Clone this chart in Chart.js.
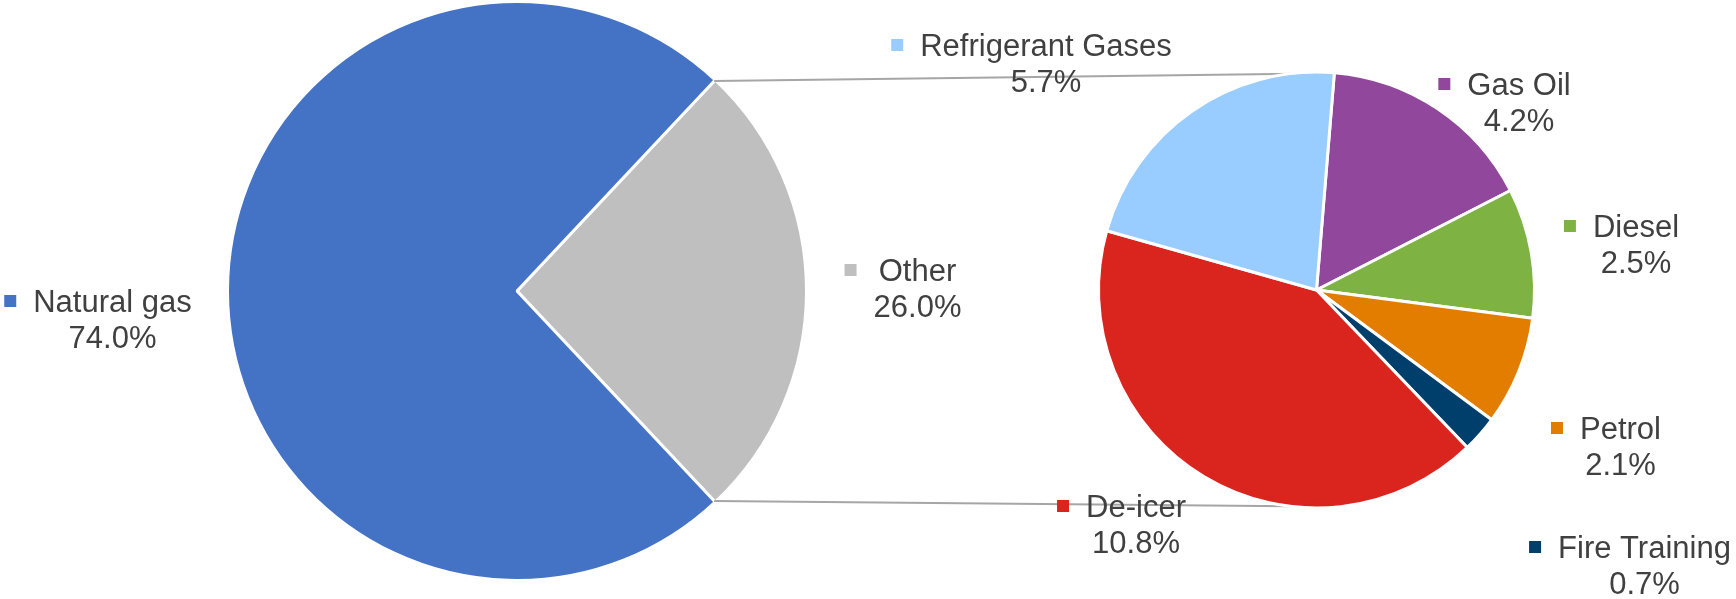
<!DOCTYPE html>
<html>
<head>
<meta charset="utf-8">
<script src="https://cdn.jsdelivr.net/npm/chart.js@4/dist/chart.umd.min.js"></script>
<style>
  html, body { margin: 0; padding: 0; background: #ffffff; }
  #wrap { position: relative; width: 1736px; height: 599px; overflow: hidden; }
  canvas { position: absolute; left: 0; top: 0; }
</style>
</head>
<body>
<div id="wrap">
  <canvas id="mainPie" width="1736" height="599"></canvas>
  <canvas id="subPie" width="1736" height="599"></canvas>
</div>
<script>
// ---- data ----
const mainLabels = ['Other', 'Natural gas'];
const mainValues = [26.0, 74.0];
const mainColors = ['#BFBFBF', '#4472C4'];

const subLabels = ['Gas Oil', 'Diesel', 'Petrol', 'Fire Training', 'De-icer', 'Refrigerant Gases'];
const subValues = [4.2, 2.5, 2.1, 0.7, 10.8, 5.7];
const subColors = ['#91489C', '#7EB343', '#E27D00', '#003F6C', '#DA251F', '#99CCFF'];

// label placement (text-block centre x, first baseline y) relative to each pie centre
const mainLabelOffsets = [[400.5, -10], [-404.5, 21]];
const subLabelOffsets = [[202.5, -195], [319.5, -53], [304, 149], [328, 268], [-180.5, 227], [-270.5, -234]];

const FONT = '31px "Liberation Sans", Arial, Helvetica, sans-serif';
const TEXT_COLOR = '#404040';
const LINE_GAP = 36;

function fmtPct(v) { return v.toFixed(1) + '%'; }

function makeLabelPlugin(labels, values, colors, offsets) {
  return {
    id: 'pieLabels',
    afterDatasetsDraw(chart) {
      const ctx = chart.ctx;
      const arcs = chart.getDatasetMeta(0).data;
      ctx.save();
      ctx.font = FONT;
      ctx.fillStyle = TEXT_COLOR;
      ctx.textBaseline = 'alphabetic';
      ctx.textAlign = 'center';
      arcs.forEach((arc, i) => {
        const {x, y} = arc.getProps(['x', 'y'], true);
        const cx = x + offsets[i][0];
        const by = y + offsets[i][1];
        const l1 = labels[i];
        const l2 = fmtPct(values[i]);
        const w = Math.max(ctx.measureText(l1).width, ctx.measureText(l2).width);
        const left = cx - w / 2;
        ctx.fillStyle = colors[i];
        ctx.fillRect(left - 17 - 12, by - 17, 12, 12);
        ctx.fillStyle = TEXT_COLOR;
        ctx.fillText(l1, cx, by);
        ctx.fillText(l2, cx, by + LINE_GAP);
      });
      ctx.restore();
    }
  };
}

const total = mainValues.reduce((a, b) => a + b, 0);
const mainRotation = 90 - (mainValues[0] / total * 360) / 2;

const baseOpts = {
  responsive: false,
  animation: false,
  events: [],
  plugins: { legend: { display: false }, tooltip: { enabled: false } }
};

const mainChart = new Chart(document.getElementById('mainPie'), {
  type: 'pie',
  data: {
    labels: mainLabels,
    datasets: [{
      data: mainValues,
      backgroundColor: mainColors,
      borderColor: '#ffffff',
      borderWidth: 3,
      hoverBorderWidth: 3
    }]
  },
  options: Object.assign({}, baseOpts, {
    rotation: mainRotation,
    layout: { padding: { left: 226, right: 928, top: 0, bottom: 17 } }
  }),
  plugins: [makeLabelPlugin(mainLabels, mainValues, mainColors, mainLabelOffsets)]
});

const connectorPlugin = {
  id: 'connectors',
  beforeDatasetsDraw(chart) {
    const src = mainChart.getDatasetMeta(0).data[0];
    const sp = src.getProps(['x', 'y', 'startAngle', 'endAngle', 'outerRadius'], true);
    const dst = chart.getDatasetMeta(0).data[0];
    const dp = dst.getProps(['x', 'y', 'outerRadius'], true);
    const r1 = sp.outerRadius - 1.5;
    const r2 = dp.outerRadius - 1.5;
    const ctx = chart.ctx;
    ctx.save();
    ctx.strokeStyle = '#A6A6A6';
    ctx.lineWidth = 2;
    ctx.beginPath();
    ctx.moveTo(sp.x + r1 * Math.cos(sp.startAngle), sp.y + r1 * Math.sin(sp.startAngle));
    ctx.lineTo(dp.x, dp.y - r2);
    ctx.moveTo(sp.x + r1 * Math.cos(sp.endAngle), sp.y + r1 * Math.sin(sp.endAngle));
    ctx.lineTo(dp.x, dp.y + r2);
    ctx.stroke();
    ctx.restore();
  }
};

const subChart = new Chart(document.getElementById('subPie'), {
  type: 'pie',
  data: {
    labels: subLabels,
    datasets: [{
      data: subValues,
      backgroundColor: subColors,
      borderColor: '#ffffff',
      borderWidth: 3,
      hoverBorderWidth: 3
    }]
  },
  options: Object.assign({}, baseOpts, {
    rotation: 4.7,
    layout: { padding: { left: 1097, right: 200, top: 70.5, bottom: 89.5 } }
  }),
  plugins: [connectorPlugin, makeLabelPlugin(subLabels, subValues, subColors, subLabelOffsets)]
});
</script>
</body>
</html>
